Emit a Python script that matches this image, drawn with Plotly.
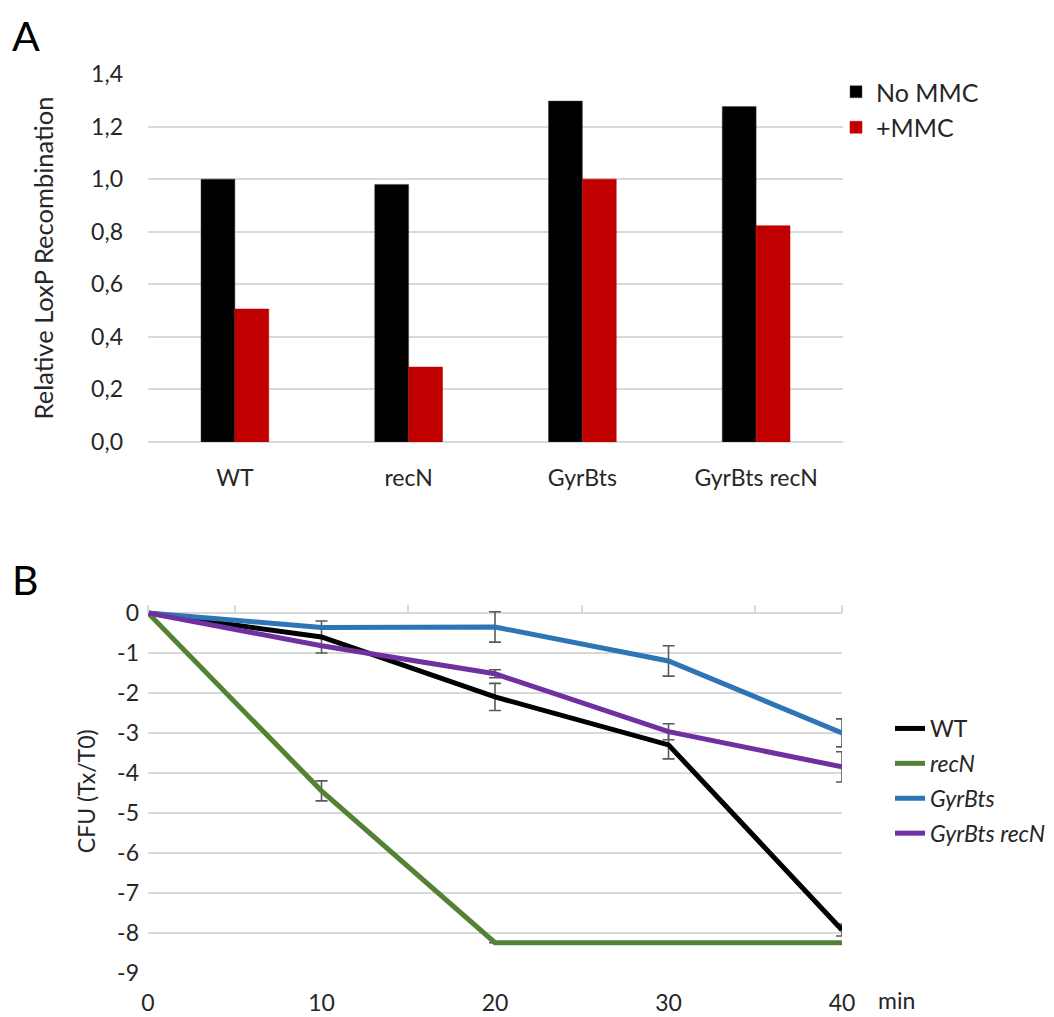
import plotly.graph_objects as go

# ---------------- Data ----------------
# Panel A
categories_a = ["WT", "recN", "GyrBts", "GyrBts recN"]
no_mmc = [1.0, 0.98, 1.297, 1.276]
plus_mmc = [0.506, 0.285, 1.0, 0.823]
ytick_vals_a = [0.0, 0.2, 0.4, 0.6, 0.8, 1.0, 1.2, 1.4]

# Panel B
time_min = [0, 10, 20, 30, 40]
wt = [0, -0.6, -2.1, -3.3, -7.93]
wt_err = [0, 0.4, 0.34, 0.35, 0.15]
recn = [0, -4.45, -8.25, -8.25, -8.25]
recn_err = [0, 0.25, 0, 0, 0]
gyrbts = [0, -0.36, -0.35, -1.2, -3.0]
gyrbts_err = [0, 0, 0.38, 0.38, 0.35]
gyrbts_recn = [0, -0.82, -1.52, -2.97, -3.85]
gyrbts_recn_err = [0, 0, 0.1, 0.2, 0.38]
ytick_vals_b = [0, -1, -2, -3, -4, -5, -6, -7, -8, -9]
ytick_text_b = ["0", "-1", "-2", "-3", "-4", "-5", "-6", "-7", "-8", "-9"]
xtick_vals_b = [0, 10, 20, 30, 40]
top_tick_vals_b = [0, 5, 15, 25, 35, 40]

# ---------------- Style ----------------
FONT = "Lato, 'Open Sans', sans-serif"
TXT = "#262626"
GRID = "#D9D9D9"
ERR = "#595959"
PAGE_W, PAGE_H = 1054, 1017
OFF = 8  # default page body margin
W, H = PAGE_W - OFF, PAGE_H - OFF

def fx(px):
    return (px - OFF) / W

def fy(py):
    return 1 - (py - OFF) / H

fig = go.Figure()

# Panel A bars
fig.add_trace(go.Bar(x=categories_a, y=no_mmc, name="No MMC", marker_color="#000000",
                     marker_line=dict(color="#404040", width=0.5),
                     xaxis="x", yaxis="y", legend="legend", legendgroup="a1"))
fig.add_trace(go.Bar(x=categories_a, y=plus_mmc, name="+MMC", marker_color="#C00000",
                     marker_line=dict(color="#C00000", width=0.5),
                     xaxis="x", yaxis="y", legend="legend", legendgroup="a2"))

# Panel B lines
def err(arr):
    return dict(type="data", array=arr, visible=True, color=ERR, thickness=1.6, width=6)

series_b = [
    ("WT", wt, wt_err, "#000000", "b1"),
    ("<i>recN</i>", recn, recn_err, "#548235", "b2"),
    ("<i>GyrBts</i>", gyrbts, gyrbts_err, "#2E75B6", "b3"),
    ("<i>GyrBts recN</i>", gyrbts_recn, gyrbts_recn_err, "#7030A0", "b4"),
]
for name, vals, e, col, grp in series_b:
    fig.add_trace(go.Scatter(x=time_min, y=vals, name=name, mode="lines",
                             line=dict(color=col, width=5),
                             error_y=err(e),
                             xaxis="x2", yaxis="y2", legend="legend2", legendgroup=grp))

# dummy trace for the top tick axis of panel B
fig.add_trace(go.Scatter(x=[0, 40], y=[None, None], mode="none", showlegend=False,
                         hoverinfo="skip", xaxis="x3", yaxis="y2"))

# Geometry (page pixel coordinates)
a_left, a_right, a_top, a_bot = 148, 843, 74, 442
b_left, b_right, b_zero, b_bot = 148, 842, 613, 972.7
b_pad = 0.08
b_unit = (b_bot - b_zero) / 9.0
b_top = b_zero - b_pad * b_unit

fig.update_layout(
    width=W, height=H,
    margin=dict(l=0, r=0, t=0, b=0, autoexpand=False),
    paper_bgcolor="white", plot_bgcolor="white",
    font=dict(family=FONT, size=23, color=TXT),
    separators=",.",
    barmode="group", bargap=0.61, bargroupgap=0,
    showlegend=True,
    xaxis=dict(domain=[fx(a_left), fx(a_right)], anchor="y", showgrid=False,
               showline=False, zeroline=False, ticks="", ticklabelstandoff=20,
               tickfont=dict(size=23), automargin=False),
    yaxis=dict(domain=[fy(a_bot), fy(a_top)], anchor="x", range=[0, 1.4],
               tickvals=ytick_vals_a, tickformat=".1f", showgrid=True,
               gridcolor=GRID, gridwidth=1.5, zeroline=True, zerolinecolor=GRID,
               zerolinewidth=1.5, showline=False, ticks="", ticklabelstandoff=24,
               tickfont=dict(size=23), automargin=False,
               title=dict(text="Relative LoxP Recombination", font=dict(size=25.5), standoff=30)),
    xaxis2=dict(domain=[fx(b_left), fx(b_right)], anchor="y2", range=[0, 40],
                tickvals=xtick_vals_b, showgrid=False, zeroline=False, showline=False,
                ticks="", ticklabelstandoff=14, tickfont=dict(size=23), automargin=False),
    yaxis2=dict(domain=[fy(b_bot), fy(b_top)], anchor="x2", range=[-9, b_pad],
                tickvals=ytick_vals_b, ticktext=ytick_text_b, showgrid=True,
                gridcolor=GRID, gridwidth=1.5, zeroline=False, showline=False,
                ticks="", ticklabelstandoff=8, tickfont=dict(size=23), automargin=False,
                title=dict(text="CFU (Tx/T0)", font=dict(size=23), standoff=15)),
    xaxis3=dict(overlaying="x2", anchor="free", position=fy(b_zero), side="top",
                range=[0, 40], tickvals=top_tick_vals_b, ticks="outside", ticklen=8,
                tickwidth=1.5, tickcolor=GRID, showticklabels=False, showgrid=False,
                zeroline=False, showline=False, automargin=False),
    legend=dict(x=fx(836), y=fy(69), xanchor="left", yanchor="top",
                font=dict(size=25, color=TXT), traceorder="grouped",
                tracegroupgap=0, bgcolor="rgba(0,0,0,0)", itemwidth=30),
    legend2=dict(x=fx(890), y=fy(707), xanchor="left", yanchor="top",
                 font=dict(size=23, color=TXT), traceorder="grouped",
                 tracegroupgap=2, bgcolor="rgba(0,0,0,0)", itemwidth=30),
    annotations=[
        dict(text="A", x=fx(10), y=fy(9), xref="paper", yref="paper", showarrow=False,
             xanchor="left", yanchor="top", font=dict(size=41, color="#000000")),
        dict(text="B", x=fx(10), y=fy(579), xref="paper", yref="paper", showarrow=False,
             xanchor="left", yanchor="middle", font=dict(size=41, color="#000000")),
        dict(text="min", x=fx(876), y=fy(1000), xref="paper", yref="paper", showarrow=False,
             xanchor="left", yanchor="middle", font=dict(size=23, color=TXT)),
    ],
)

fig.write_html("out.html")
